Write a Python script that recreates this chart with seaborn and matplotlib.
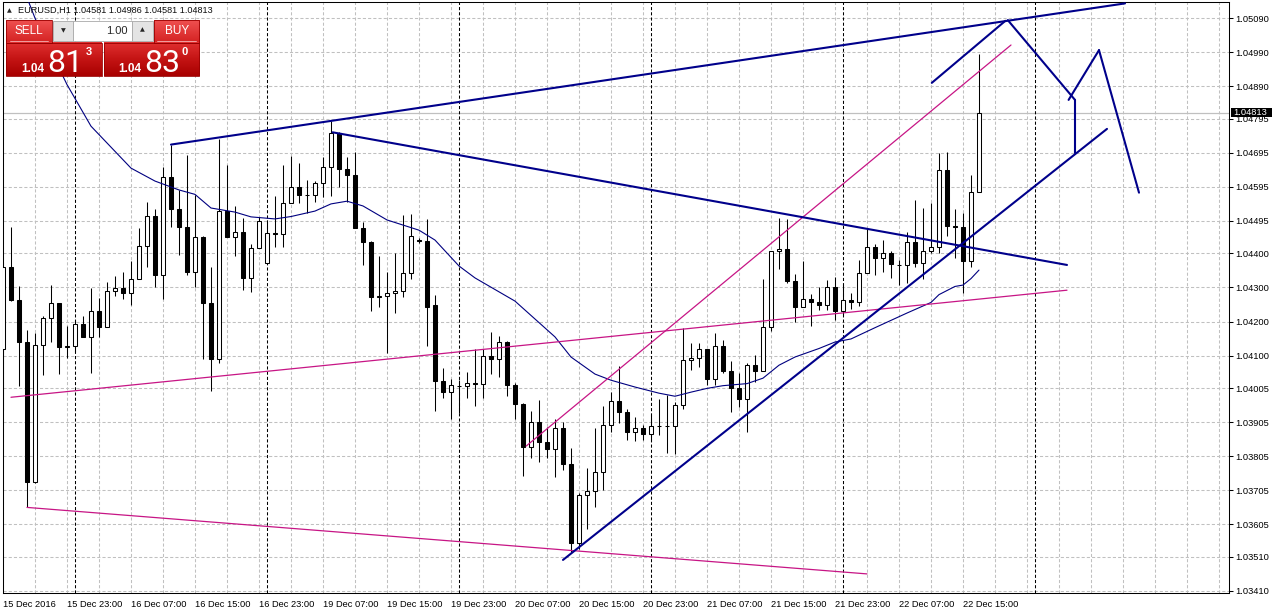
import numpy as np
import pandas as pd
import matplotlib
matplotlib.use("Agg")
import matplotlib.pyplot as plt
import seaborn as sns
from matplotlib.colors import LinearSegmentedColormap
from matplotlib.patches import Rectangle


# EURUSD H1 candles, 15 Dec 15:00 .. 22 Dec 17:00
opens = [1.04119, 1.04361, 1.04263, 1.04141, 1.03730, 1.04130, 1.04209, 1.04254, 1.04126, 1.04127,
         1.04193, 1.04155, 1.04230, 1.04183, 1.04289, 1.04297, 1.04283, 1.04324, 1.04421, 1.04509,
         1.04338, 1.04623, 1.04529, 1.04476, 1.04346, 1.04447, 1.04255, 1.04089, 1.04524, 1.04449,
         1.04462, 1.04328, 1.04415, 1.04372, 1.04459, 1.04458, 1.04547, 1.04594, 1.04570, 1.04571,
         1.04605, 1.04652, 1.04752, 1.04646, 1.04630, 1.04473, 1.04434, 1.04273, 1.04275, 1.04283,
         1.04289, 1.04341, 1.04440, 1.04437, 1.04248, 1.04026, 1.03994, 1.04012, 1.04012, 1.04019,
         1.04017, 1.04099, 1.04090, 1.04139, 1.04015, 1.03959, 1.03833, 1.03904, 1.03847, 1.03825,
         1.03887, 1.03781, 1.03551, 1.03691, 1.03703, 1.03758, 1.03898, 1.03966, 1.03934, 1.03877,
         1.03887, 1.03870, 1.03894, 1.03895, 1.03894, 1.03954, 1.04086, 1.04092, 1.04119, 1.04032,
         1.04128, 1.04055, 1.04004, 1.03974, 1.04074, 1.04055, 1.04184, 1.04407, 1.04412, 1.04320,
         1.04243, 1.04266, 1.04257, 1.04248, 1.04300, 1.04232, 1.04263, 1.04258, 1.04341, 1.04418,
         1.04385, 1.04400, 1.04366, 1.04365, 1.04434, 1.04372, 1.04408, 1.04419, 1.04643, 1.04481,
         1.04478, 1.04378, 1.04581]
highs = [1.04375, 1.04476, 1.04304, 1.04175, 1.04166, 1.04217, 1.04308, 1.04254, 1.04187, 1.04204,
         1.04217, 1.04299, 1.04268, 1.04316, 1.04334, 1.04345, 1.04377, 1.04475, 1.04550, 1.04530,
         1.04652, 1.04719, 1.04586, 1.04688, 1.04570, 1.04450, 1.04359, 1.04735, 1.04659, 1.04540,
         1.04503, 1.04427, 1.04507, 1.04498, 1.04568, 1.04659, 1.04686, 1.04666, 1.04615, 1.04612,
         1.04682, 1.04788, 1.04757, 1.04682, 1.04698, 1.04493, 1.04436, 1.04392, 1.04346, 1.04402,
         1.04512, 1.04514, 1.04445, 1.04502, 1.04278, 1.04063, 1.04033, 1.04030, 1.04052, 1.04119,
         1.04119, 1.04170, 1.04158, 1.04143, 1.04020, 1.03961, 1.03937, 1.03970, 1.03891, 1.03913,
         1.03904, 1.03830, 1.03696, 1.03771, 1.03887, 1.03952, 1.03992, 1.04069, 1.03945, 1.03919,
         1.03896, 1.03926, 1.03972, 1.03984, 1.03965, 1.04180, 1.04136, 1.04138, 1.04121, 1.04165,
         1.04146, 1.04083, 1.04048, 1.04079, 1.04102, 1.04325, 1.04407, 1.04504, 1.04500, 1.04339,
         1.04379, 1.04281, 1.04300, 1.04322, 1.04330, 1.04309, 1.04283, 1.04380, 1.04470, 1.04427,
         1.04439, 1.04408, 1.04380, 1.04463, 1.04556, 1.04532, 1.04547, 1.04693, 1.04696, 1.04529,
         1.04519, 1.04630, 1.04986]
lows = [1.03941, 1.04260, 1.04011, 1.03655, 1.03726, 1.04043, 1.04141, 1.04046, 1.04093, 1.04110,
        1.04154, 1.04050, 1.04155, 1.04183, 1.04276, 1.04267, 1.04248, 1.04324, 1.04359, 1.04302,
        1.04267, 1.04476, 1.04394, 1.04336, 1.04302, 1.04089, 1.03997, 1.04079, 1.04449, 1.04392,
        1.04292, 1.04287, 1.04415, 1.04372, 1.04419, 1.04419, 1.04547, 1.04548, 1.04517, 1.04551,
        1.04564, 1.04568, 1.04595, 1.04551, 1.04473, 1.04366, 1.04232, 1.04243, 1.04107, 1.04226,
        1.04273, 1.04326, 1.04430, 1.04128, 1.03938, 1.03975, 1.03914, 1.03931, 1.03976, 1.03952,
        1.03976, 1.04046, 1.04036, 1.03982, 1.03914, 1.03748, 1.03799, 1.03789, 1.03799, 1.03745,
        1.03766, 1.03525, 1.03532, 1.03591, 1.03657, 1.03706, 1.03877, 1.03903, 1.03852, 1.03849,
        1.03852, 1.03850, 1.03867, 1.03815, 1.03813, 1.03945, 1.04058, 1.04067, 1.04015, 1.04013,
        1.04048, 1.03935, 1.03950, 1.03877, 1.04023, 1.04055, 1.04173, 1.04353, 1.04314, 1.04199,
        1.04243, 1.04188, 1.04234, 1.04234, 1.04206, 1.04219, 1.04236, 1.04245, 1.04341, 1.04336,
        1.04344, 1.04328, 1.04307, 1.04314, 1.04361, 1.04324, 1.04400, 1.04400, 1.04451, 1.04385,
        1.04285, 1.04361, 1.04581]
closes = [1.04361, 1.04263, 1.04141, 1.03730, 1.04130, 1.04209, 1.04254, 1.04126, 1.04127, 1.04193,
          1.04155, 1.04230, 1.04183, 1.04289, 1.04297, 1.04283, 1.04324, 1.04421, 1.04509, 1.04338,
          1.04623, 1.04529, 1.04476, 1.04346, 1.04447, 1.04255, 1.04089, 1.04524, 1.04449, 1.04462,
          1.04328, 1.04415, 1.04495, 1.04459, 1.04458, 1.04547, 1.04594, 1.04570, 1.04571, 1.04605,
          1.04652, 1.04752, 1.04646, 1.04630, 1.04473, 1.04434, 1.04273, 1.04275, 1.04283, 1.04289,
          1.04341, 1.04450, 1.04437, 1.04243, 1.04026, 1.03994, 1.04014, 1.04012, 1.04019, 1.04016,
          1.04099, 1.04090, 1.04139, 1.04015, 1.03959, 1.03833, 1.03904, 1.03847, 1.03825, 1.03887,
          1.03781, 1.03551, 1.03691, 1.03703, 1.03758, 1.03898, 1.03966, 1.03934, 1.03877, 1.03887,
          1.03870, 1.03894, 1.03895, 1.03894, 1.03954, 1.04086, 1.04092, 1.04119, 1.04032, 1.04128,
          1.04055, 1.04004, 1.03974, 1.04074, 1.04055, 1.04184, 1.04407, 1.04412, 1.04320, 1.04243,
          1.04266, 1.04257, 1.04248, 1.04300, 1.04232, 1.04263, 1.04258, 1.04341, 1.04418, 1.04385,
          1.04400, 1.04368, 1.04365, 1.04434, 1.04372, 1.04408, 1.04419, 1.04643, 1.04481, 1.04478,
          1.04378, 1.04581, 1.04813]

# moving average (read at bar index)
ma_idx = [3, 4, 8, 11, 16, 19, 22, 24, 26, 29, 31, 34, 36, 39, 41, 43, 45, 48, 52, 54, 57, 59,
          64, 69, 71, 74, 76, 79, 82, 84, 86, 88, 90, 93, 95, 97, 99, 102, 104, 106, 109, 113,
          116, 117, 119, 120, 121, 122]
ma_vals = [1.05150, 1.05090, 1.04895, 1.04773, 1.04650, 1.04612, 1.04586, 1.04573, 1.04533,
           1.04521, 1.04507, 1.04501, 1.04508, 1.04524, 1.04545, 1.04553, 1.04539, 1.04498,
           1.04468, 1.04439, 1.04363, 1.04328, 1.04260, 1.04155, 1.04096, 1.04046, 1.04028,
           1.04008, 1.03990, 1.03981, 1.03993, 1.04004, 1.04012, 1.04018, 1.04034, 1.04072,
           1.04096, 1.04121, 1.04140, 1.04149, 1.04182, 1.04225, 1.04256, 1.04279, 1.04303,
           1.04307, 1.04326, 1.04351]

# drawn objects: (bar index, price) anchors
blue_x = [[21.0, 140.25], [41.2, 133.0], [70.0, 138.0],
          [116.1, 125.3], [125.6, 134.0], [133.2, 137.0], [137.0, 142.0], [134.0, 134.0]]
blue_y = [[1.04719, 1.05133], [1.04755, 1.04366], [1.03501, 1.04765],
          [1.04900, 1.05082], [1.05084, 1.04850], [1.04850, 1.04996], [1.04996, 1.04578],
          [1.04850, 1.04693]]
pink_x = [[3.0, 108.0], [1.0, 133.0], [65.4, 126.0]]
pink_y = [[1.03655, 1.03460], [1.03978, 1.04292], [1.03835, 1.05011]]

price_ticks = [1.05090, 1.04990, 1.04890, 1.04795, 1.04695, 1.04595, 1.04495, 1.04400, 1.04300,
               1.04200, 1.04100, 1.04005, 1.03905, 1.03805, 1.03705, 1.03605, 1.03510, 1.03410]

times = list(pd.date_range("2016-12-15 15:00", "2016-12-16 23:00", freq="h")) + \
        list(pd.date_range("2016-12-19 00:00", "2016-12-23 12:00", freq="h"))

sns.set_style("white")
plt.rcParams["font.family"] = ["Liberation Sans", "DejaVu Sans"]

W, H = 1272, 616
fig = plt.figure(figsize=(W / 100, H / 100), dpi=100)
ax = fig.add_axes([2.5 / W, 23 / H, (1229 - 2.5) / W, (593 - 1.7) / H])
ax.set_facecolor("white")

o, h, l, c = map(np.array, (opens, highs, lows, closes))
idx = np.arange(len(o))
ax.vlines(idx, l, h, color="black", lw=0.75, zorder=3)
ax.bar(idx, np.abs(c - o), bottom=np.minimum(o, c), width=0.5,
       color=np.where(c >= o, "white", "black"), edgecolor="black", linewidth=0.75, zorder=4)

sns.lineplot(x=ma_idx, y=ma_vals, ax=ax, color="#000080", lw=0.8, estimator=None, sort=False,
             legend=False, zorder=5)
for xs, ys in zip(pink_x, pink_y):
    sns.lineplot(x=xs, y=ys, ax=ax, color="#c71585", lw=0.9, estimator=None, sort=False,
                 legend=False, zorder=6)
for xs, ys in zip(blue_x, blue_y):
    sns.lineplot(x=xs, y=ys, ax=ax, color="#00008b", lw=1.5, estimator=None, sort=False,
                 legend=False, zorder=7)

# day separators and price line
for i, t in enumerate(times):
    if t.hour == 0:
        ax.axvline(i, color="black", ls=(0, (3, 2)), lw=0.75, zorder=1.5)
ax.axhline(closes[-1], color="#c0c0c0", lw=0.9, zorder=1.2)

ax.set_xlim(-0.06, 153.25)
ax.set_ylim(1.03404, 1.05138)

lab_idx = list(range(0, len(closes), 8))
ax.set_xticks(lab_idx)
ax.set_xticklabels(["15 Dec 2016" if i == 0 else times[i].strftime("%d %b %H:%M") for i in lab_idx],
                   ha="left")
ax.set_xticks(np.arange(0, 154, 4), minor=True)
ax.set_yticks(price_ticks)
ax.set_yticklabels([f"{v:.5f}" for v in price_ticks])
ax.yaxis.tick_right()
ax.tick_params(axis="y", length=3, width=0.75, pad=1.5, labelsize=6.7, colors="black")
ax.tick_params(axis="x", which="major", length=3, width=0.75, pad=2, labelsize=6.7, colors="black")
ax.tick_params(axis="x", which="minor", length=0)
ax.grid(True, axis="y", which="major", color="#c0c0c0", ls=(0, (3, 2)), lw=0.75)
ax.grid(True, axis="x", which="both", color="#c0c0c0", ls=(0, (3, 2)), lw=0.75)
ax.set_axisbelow(True)
for s in ax.spines.values():
    s.set_color("black")
    s.set_linewidth(0.75)
ax.set_xlabel("")
ax.set_ylabel("")

# overlay in pixel coordinates: trade panel, header and price box
ov = fig.add_axes([0, 0, 1, 1], zorder=5)
ov.patch.set_alpha(0)
grad = np.linspace(0, 1, 64).reshape(-1, 1)
btn_cmap = LinearSegmentedColormap.from_list("btn", ["#ef5050", "#d42222"])
box_cmap = LinearSegmentedColormap.from_list("box", ["#e03030", "#c41414", "#a80000"])


def red_box(x0, y0, x1, y1, cmap):
    ov.imshow(grad, cmap=cmap, extent=(x0, x1, y1, y0), aspect="auto", interpolation="bilinear", zorder=1)
    ov.add_patch(Rectangle((x0, y0), x1 - x0, y1 - y0, fill=False, ec="#9a0000", lw=0.6, zorder=2))


red_box(6, 20, 51.7, 42.7, btn_cmap)
red_box(154, 20, 199.3, 42.7, btn_cmap)
red_box(6, 42.7, 101.7, 76, box_cmap)
red_box(104, 42.7, 199.3, 76, box_cmap)
ov.plot([10, 48], [41.3, 41.3], color="#f4b4b4", lw=0.6, zorder=3)
ov.plot([157, 196], [41.3, 41.3], color="#f4b4b4", lw=0.6, zorder=3)

ov.add_patch(Rectangle((53.3, 20.7), 20, 20, fc="#e4e4e4", ec="#a8a8a8", lw=0.6, zorder=2))
ov.add_patch(Rectangle((73.3, 20.7), 58.4, 20, fc="white", ec="#a8a8a8", lw=0.6, zorder=2))
ov.add_patch(Rectangle((131.7, 20.7), 21.6, 20, fc="#e4e4e4", ec="#a8a8a8", lw=0.6, zorder=2))
ov.text(63.3, 30.7, "▼", fontsize=4.5, family="DejaVu Sans", ha="center", va="center", zorder=4)
ov.text(142.5, 30.2, "▲", fontsize=4.5, family="DejaVu Sans", ha="center", va="center", zorder=4)
ov.text(127.5, 30.7, "1.00", fontsize=8, ha="right", va="center", zorder=4)

ov.text(28.8, 31.3, "SELL", fontsize=8.5, color="white", ha="center", va="center", zorder=4)
ov.text(176.7, 31.3, "BUY", fontsize=8.5, color="white", ha="center", va="center", zorder=4)
big = ["Roboto", "Liberation Sans"]
ov.text(21, 71.5, "1.04", fontsize=8.5, color="white", weight="bold", ha="left", va="baseline", zorder=4)
ov.text(47, 72, "81", fontsize=23, color="white", family=big, ha="left", va="baseline", zorder=4)
ov.text(86, 55, "3", fontsize=8, color="white", weight="bold", ha="left", va="baseline", zorder=4)
ov.text(118, 71.5, "1.04", fontsize=8.5, color="white", weight="bold", ha="left", va="baseline", zorder=4)
ov.text(144, 72, "83", fontsize=23, color="white", family=big, ha="left", va="baseline", zorder=4)
ov.text(181.5, 55, "0", fontsize=8, color="white", weight="bold", ha="left", va="baseline", zorder=4)

ov.text(9.5, 10.5, "▲", fontsize=4.5, family="DejaVu Sans", ha="center", va="center", zorder=4)
ov.text(18.3, 10.7, "EURUSD,H1 " + " ".join(f"{v:.5f}" for v in (opens[-1], highs[-1], lows[-1], closes[-1])),
        fontsize=6.6, color="#101010", ha="left", va="center", zorder=4)

y_last = H - ax.transData.transform((0, closes[-1]))[1]
ov.add_patch(Rectangle((1230.5, y_last - 4.8), 42, 9.6, fc="black", ec="none", zorder=3))
ov.text(1233, y_last, f"{closes[-1]:.5f}", fontsize=6.7, color="white", ha="left", va="center", zorder=4)

ov.set_xlim(0, W)
ov.set_ylim(H, 0)
ov.axis("off")

fig.savefig("out.png", dpi=100)
